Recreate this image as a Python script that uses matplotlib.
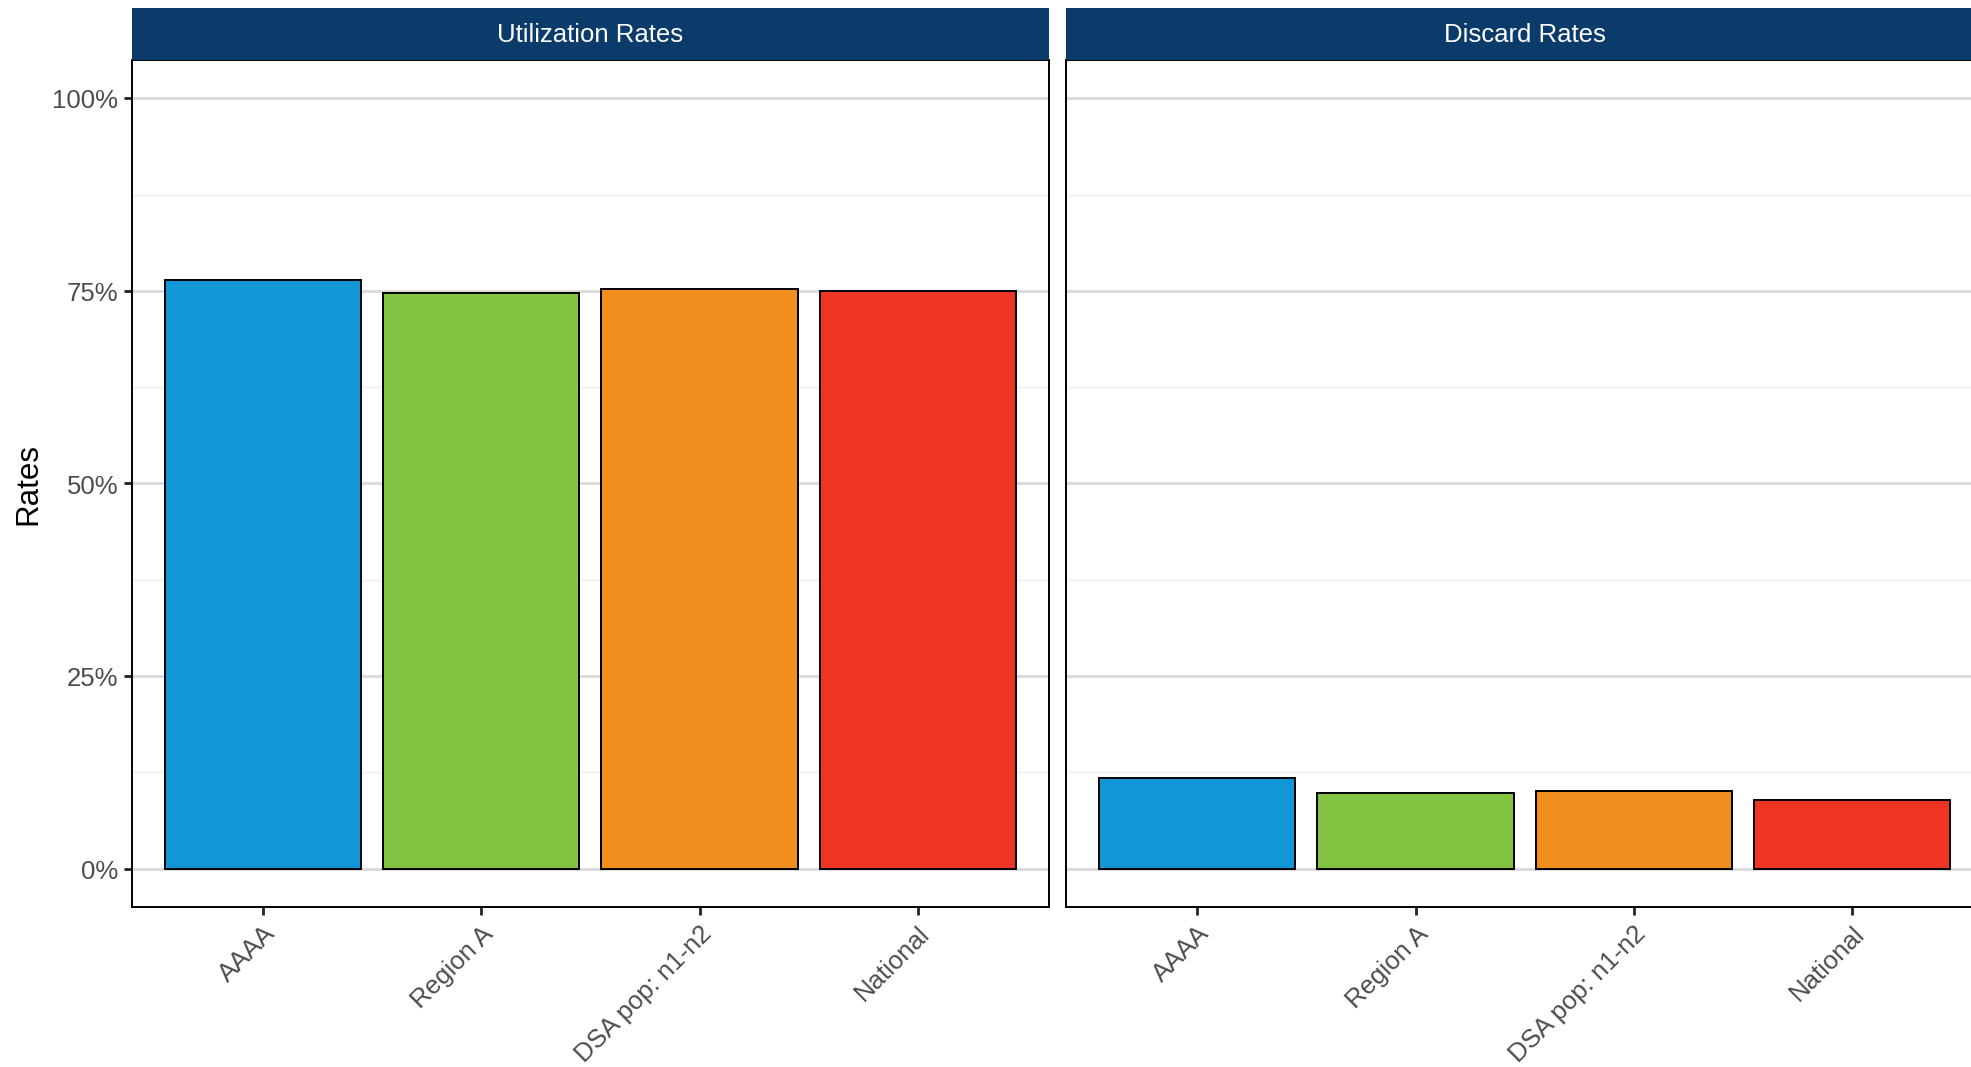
import matplotlib
matplotlib.use("Agg")
import matplotlib.pyplot as plt
from matplotlib.patches import Rectangle
from matplotlib.ticker import FixedLocator, PercentFormatter

plt.rcParams["font.family"] = ["Liberation Sans", "DejaVu Sans"]

# values
categories = ["AAAA", "Region A", "DSA pop: n1-n2", "National"]
utilization = [0.764, 0.747, 0.752, 0.750]
discard = [0.117, 0.098, 0.101, 0.089]
panel_titles = ["Utilization Rates", "Discard Rates"]
bar_colours = ["#1197D6", "#82C341", "#F18F1E", "#EE3524"]
strip_colour = "#0B3B6B"

W, H = 1972, 1068
fig = plt.figure(figsize=((W - 0.4) / 100, (H - 0.4) / 100), dpi=100)

ax_w = 917 / W
ax_b = 1 - 908 / H
ax_h = (908 - 60.4) / H
strip_h = 51.6 / (908 - 60.4)

lefts = [132 / W, 1066.5 / W]
series = [utilization, discard]

for i, (left, vals, title) in enumerate(zip(lefts, series, panel_titles)):
    ax = fig.add_axes([left, ax_b, ax_w, ax_h])
    x = list(range(len(categories)))
    ax.bar(x, vals, width=0.9, color=bar_colours, edgecolor="black",
           linewidth=1.4, zorder=3)
    ax.set_xlim(-0.6, len(categories) - 0.4)
    ax.set_ylim(-0.05, 1.05)

    ax.yaxis.set_major_locator(FixedLocator([0, 0.25, 0.5, 0.75, 1.0]))
    ax.yaxis.set_minor_locator(FixedLocator([0.125, 0.375, 0.625, 0.875]))
    ax.yaxis.set_major_formatter(PercentFormatter(1.0, decimals=0))
    ax.grid(axis="y", which="major", color="#D9D9D9", linewidth=2.0, zorder=0)
    ax.grid(axis="y", which="minor", color="#EFEFEF", linewidth=1.0, zorder=0)
    ax.tick_params(axis="y", which="minor", length=0)

    ax.set_xticks(x)
    ax.set_xticklabels(categories, rotation=45, ha="right", va="top",
                       rotation_mode="anchor")
    ax.tick_params(axis="both", which="major", labelsize=18.5,
                   labelcolor="#4D4D4D", length=6, width=2.0,
                   color="#222222", pad=4)

    for s in ax.spines.values():
        s.set_color("black")
        s.set_linewidth(1.4)

    if i == 0:
        ax.set_ylabel("Rates", fontsize=22.5, labelpad=6)
    else:
        ax.tick_params(axis="y", which="both", left=False, labelleft=False)

    # facet strip
    ax.add_patch(Rectangle((0, 1), 1, strip_h, transform=ax.transAxes,
                           facecolor=strip_colour, edgecolor="none",
                           clip_on=False, zorder=5))
    ax.text(0.5, 1 + strip_h / 2, title, transform=ax.transAxes,
            ha="center", va="center", color="white", fontsize=18.5,
            zorder=6)

fig.savefig("out.png", dpi=100, facecolor="white")
